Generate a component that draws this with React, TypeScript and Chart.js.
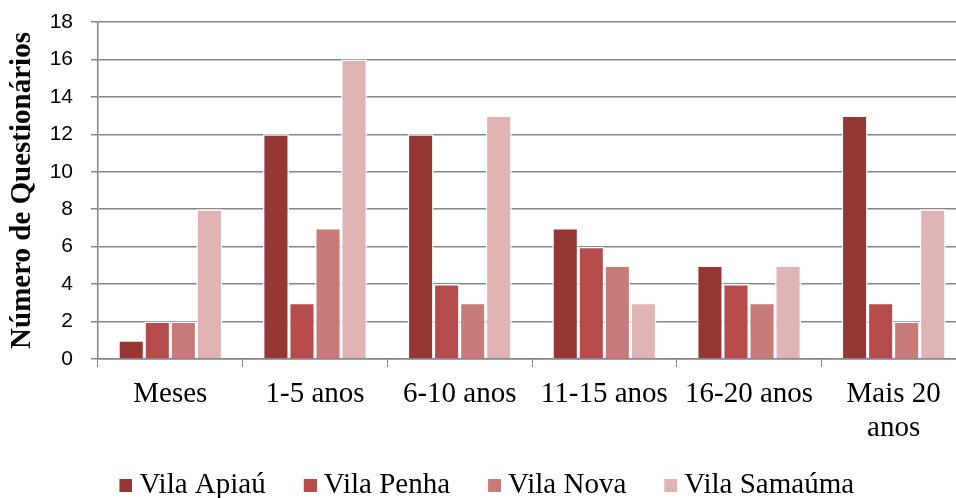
import React, { useEffect, useRef } from "react";
import { Chart, registerables } from "chart.js";

Chart.register(...registerables);

const categories: (string | string[])[] = ["Meses", "1-5 anos", "6-10 anos", "11-15 anos", "16-20 anos", ["Mais 20", "anos"]];
const seriesNames = ["Vila Apiaú", "Vila Penha", "Vila Nova", "Vila Samaúma"];
const apiau = [1, 12, 12, 7, 5, 13];
const penha = [2, 3, 4, 6, 4, 3];
const nova = [2, 7, 3, 5, 3, 2];
const samauma = [8, 16, 13, 3, 5, 8];
const colors = ["#953735", "#b54b4a", "#c97b7a", "#e0b4b4"];
const yTitle = "Número de Questionários";

const BOX = 13;

function marker(color: string): HTMLCanvasElement {
  const c = document.createElement("canvas");
  c.width = BOX + 15;
  c.height = 13;
  const ctx = c.getContext("2d") as CanvasRenderingContext2D;
  ctx.fillStyle = color;
  ctx.fillRect(c.width - 13, 0, 13, 13);
  return c;
}

export default function App() {
  const ref = useRef<HTMLCanvasElement | null>(null);
  useEffect(() => {
    document.body.style.margin = "0";
    const values = [apiau, penha, nova, samauma];
    const markers = colors.map(marker);
    const chart = new Chart(ref.current as HTMLCanvasElement, {
      type: "bar",
      data: {
        labels: categories,
        datasets: seriesNames.map((n, i) => ({
          label: n,
          data: values[i],
          backgroundColor: colors[i],
          borderColor: "#ffffff",
          borderWidth: 1.5,
          categoryPercentage: 0.72,
          barPercentage: 1,
        })),
      },
      options: {
        animation: false,
        responsive: false,
        maintainAspectRatio: false,
        layout: { padding: { left: 0, right: 0, top: 0, bottom: 0 } },
        plugins: {
          tooltip: { enabled: false },
          legend: {
            position: "bottom",
            maxHeight: 58,
            labels: {
              color: "#000",
              font: { family: "'Liberation Serif', serif", size: 29 },
              boxWidth: BOX,
              boxHeight: 13,
              usePointStyle: true,
              padding: 30.5,
              generateLabels: () =>
                seriesNames.map((n, i) => ({
                  text: n,
                  fillStyle: colors[i],
                  strokeStyle: colors[i],
                  lineWidth: 0,
                  pointStyle: markers[i],
                  hidden: false,
                  datasetIndex: i,
                })),
            },
          },
        },
        scales: {
          x: {
            grid: {
              offset: true,
              drawOnChartArea: false,
              drawTicks: true,
              tickLength: 8,
              color: "#868686",
            },
            border: { display: true, color: "#868686", width: 1.5 },
            ticks: {
              color: "#000",
              font: { family: "'Liberation Serif', serif", size: 29, lineHeight: 1.15 },
              maxRotation: 0,
              autoSkip: false,
              padding: 11,
            },
            afterFit: (s: any) => {
              s.height = 81;
            },
          },
          y: {
            min: 0,
            max: 18,
            ticks: {
              stepSize: 2,
              color: "#000",
              font: { family: "'Liberation Sans', sans-serif", size: 21, lineHeight: 0.38 },
              padding: 18,
            },
            grid: { color: "#868686", lineWidth: 1.5, tickLength: 7 },
            border: { display: true, color: "#868686", width: 1.5 },
            title: {
              display: true,
              text: yTitle,
              color: "#000",
              font: { family: "'Liberation Serif', serif", size: 29, weight: "bold" },
              padding: { top: 5, bottom: 0 },
            },
            afterFit: (s: any) => {
              s.width = 98;
            },
          },
        },
      },
    });
    return () => chart.destroy();
  }, []);
  return (
    <div style={{ position: "absolute", left: 0, top: 0, width: 956, height: 498, overflow: "hidden" }}>
      <canvas ref={ref} width={966} height={498} style={{ width: 966, height: 498, display: "block" }} />
    </div>
  );
}
